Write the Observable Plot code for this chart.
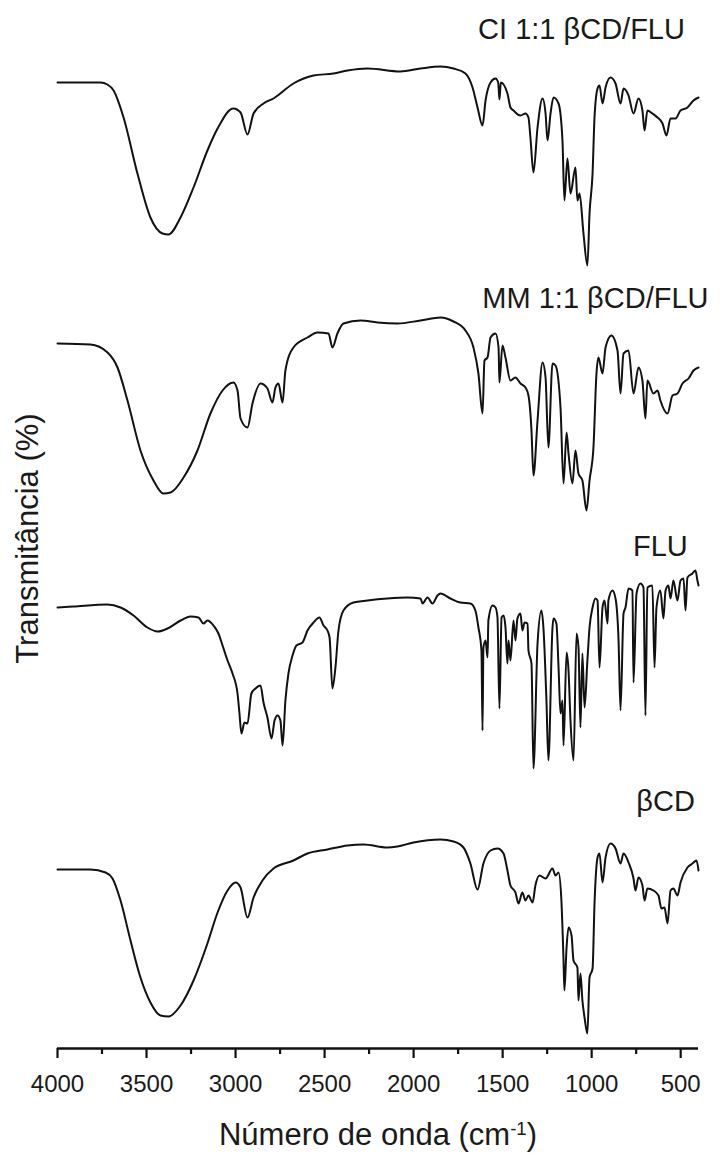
<!DOCTYPE html>
<html>
<head>
<meta charset="utf-8">
<script src="https://cdn.jsdelivr.net/npm/d3@7"></script>
<script src="https://cdn.jsdelivr.net/npm/@observablehq/plot@0.6"></script>
<style>
  body { margin: 0; background: #fff; }
  svg { font-family: "Liberation Sans", Arial, sans-serif; }
</style>
</head>
<body>
<div id="chart"></div>
<script>
// Series (top to bottom) and vertical stacking offset (arbitrary transmittance units)
const seriesNames = ["CI 1:1 βCD/FLU", "MM 1:1 βCD/FLU", "FLU", "βCD"];
const stackOffset = [750, 500, 250, 0];

// Label anchors: wavenumber and transmittance (relative to each series' offset)
const labelWn = [1057, 979, 614, 585];
const labelT = [269, 250, 252, 247];

// Axis ticks
const majorTicks = [4000, 3500, 3000, 2500, 2000, 1500, 1000, 500];
const minorTicks = [3750, 3250, 2750, 2250, 1750, 1250, 750];

// Spectra: [wavenumber (cm-1), transmittance (arbitrary units)]
const ciSpectrum = [
  [4000,216],[3758,216],[3720,214],[3685,208],[3629,181],[3551,125],[3478,81],[3410,65],[3377,64],[3309,81],
  [3236,111],[3158,148],[3101,170],[3012,190],[2972,186],[2933,164],[2899,185],[2843,195],[2787,200],
  [2675,215],[2562,223],[2450,225],[2371,228],[2259,230],[2074,227],[1961,230],[1849,232],[1776,230],
  [1709,225],[1669,211],[1641,191],[1613,173],[1596,198],[1568,216],[1540,220],[1525,216],[1518,199],
  [1510,216],[1473,205],[1456,191],[1439,188],[1400,183],[1372,185],[1355,181],[1344,161],[1327,126],
  [1304,171],[1276,200],[1259,185],[1248,158],[1231,185],[1214,201],[1186,195],[1164,158],[1153,98],
  [1136,140],[1119,105],[1091,131],[1080,98],[1068,105],[1046,65],[1024,33],[1012,85],[995,125],
  [984,181],[967,210],[956,213],[939,195],[922,211],[894,221],[866,215],[838,195],[821,210],[793,203],
  [765,185],[737,200],[715,188],[703,168],[687,188],[659,185],[630,181],[602,175],[580,163],[557,180],
  [529,180],[501,188],[462,191],[428,198],[400,201]
];

const mmSpectrum = [
  [4000,205],[3815,204],[3719,196],[3663,181],[3607,148],[3534,98],[3461,68],[3405,55],[3365,56],
  [3292,71],[3214,98],[3141,135],[3073,158],[3012,166],[2989,158],[2972,130],[2933,121],[2905,145],
  [2860,165],[2821,160],[2793,146],[2776,161],[2759,165],[2736,146],[2720,178],[2675,201],[2596,211],
  [2540,216],[2478,215],[2456,201],[2428,215],[2394,225],[2298,228],[2203,226],[2091,225],[1961,228],
  [1849,231],[1776,227],[1709,218],[1664,201],[1636,175],[1613,135],[1602,188],[1585,191],[1568,211],
  [1540,215],[1523,201],[1518,166],[1501,203],[1484,191],[1456,168],[1428,171],[1400,165],[1372,161],
  [1355,153],[1338,118],[1327,73],[1304,128],[1276,186],[1259,171],[1243,101],[1220,185],[1203,183],
  [1175,141],[1158,65],[1141,116],[1130,95],[1108,65],[1091,98],[1074,75],[1052,68],[1029,38],
  [1012,68],[990,101],[973,175],[962,191],[939,175],[922,201],[889,213],[855,198],[838,155],[821,195],
  [793,198],[765,155],[737,181],[715,168],[698,130],[687,168],[653,155],[630,158],[614,148],[574,135],
  [546,153],[518,155],[490,165],[456,170],[428,178],[400,181]
];

const fluSpectrum = [
  [4000,191],[3910,192],[3719,194],[3646,191],[3573,183],[3495,171],[3438,167],[3382,170],[3309,178],
  [3253,182],[3208,181],[3180,175],[3158,178],[3124,173],[3096,165],[3073,153],[3045,138],[3017,125],
  [2989,105],[2978,85],[2967,65],[2950,76],[2933,75],[2911,105],[2888,110],[2860,113],[2843,96],
  [2821,81],[2798,60],[2781,78],[2764,83],[2748,78],[2736,53],[2720,98],[2703,125],[2680,143],
  [2658,153],[2624,156],[2596,168],[2562,176],[2529,181],[2506,173],[2484,168],[2472,161],[2456,110],
  [2439,131],[2422,168],[2394,188],[2338,196],[2259,198],[2147,200],[2034,201],[1961,200],[1950,195],
  [1922,201],[1894,195],[1866,203],[1849,205],[1793,200],[1737,196],[1681,195],[1653,188],[1636,171],
  [1619,148],[1613,68],[1608,151],[1596,158],[1585,141],[1580,178],[1557,193],[1540,191],[1529,181],
  [1518,90],[1506,181],[1495,183],[1484,171],[1473,135],[1467,158],[1456,138],[1439,178],[1428,158],
  [1417,180],[1400,185],[1389,168],[1377,176],[1360,175],[1355,148],[1338,135],[1327,30],[1304,155],
  [1282,188],[1271,171],[1254,98],[1243,38],[1220,171],[1214,180],[1198,175],[1186,131],[1175,85],
  [1164,98],[1158,53],[1141,146],[1130,128],[1119,78],[1102,38],[1085,165],[1074,151],[1063,71],
  [1052,145],[1040,91],[1024,138],[1012,171],[995,191],[979,200],[967,198],[956,131],[939,191],
  [928,198],[911,175],[906,198],[883,208],[866,200],[849,158],[838,88],[821,185],[810,191],[793,210],
  [771,208],[765,116],[748,205],[726,215],[709,211],[698,83],[687,211],[659,213],[647,131],[636,191],
  [614,208],[597,180],[585,208],[569,213],[557,200],[541,218],[518,198],[501,218],[484,220],[473,188],
  [462,221],[434,225],[417,228],[406,218],[400,213]
];

const bcdSpectrum = [
  [4000,179],[3815,179],[3730,176],[3691,170],[3646,148],[3590,108],[3534,71],[3478,46],[3422,33],
  [3377,32],[3309,43],[3236,68],[3158,105],[3101,136],[3045,158],[3000,166],[2972,161],[2933,131],
  [2899,151],[2849,168],[2787,180],[2675,188],[2596,195],[2484,199],[2371,203],[2281,204],[2147,201],
  [2091,202],[2001,206],[1849,209],[1776,207],[1720,201],[1681,185],[1641,159],[1608,185],[1568,198],
  [1529,200],[1495,195],[1473,178],[1456,163],[1428,156],[1411,145],[1389,156],[1372,148],[1355,153],
  [1332,146],[1316,163],[1293,173],[1259,170],[1220,180],[1203,173],[1186,176],[1170,148],[1158,88],
  [1153,58],[1141,101],[1130,121],[1113,113],[1102,88],[1080,81],[1074,48],[1063,75],[1052,48],
  [1040,31],[1024,15],[1012,71],[995,80],[984,145],[967,191],[956,195],[939,166],[922,191],[894,205],
  [866,200],[838,185],[821,195],[793,186],[765,170],[754,158],[737,171],[715,163],[703,148],[687,160],
  [653,158],[625,153],[608,140],[591,141],[574,125],[557,158],[541,160],[518,153],[501,166],[462,181],
  [434,185],[411,188],[400,178]
];

const spectra = [ciSpectrum, mmSpectrum, fluSpectrum, bcdSpectrum];

const rows = spectra.flatMap((s, i) =>
  s.map(([wn, t]) => ({series: seriesNames[i], wn, t: t + stackOffset[i]}))
);
const labels = seriesNames.map((name, i) => ({name, wn: labelWn[i], t: labelT[i] + stackOffset[i]}));

const xTitle = "Número de onda (cm-1)";
const yTitle = "Transmitância (%)";

const chart = Plot.plot({
  width: 724,
  height: 1153,
  marginLeft: 57,
  marginRight: 26,
  marginTop: 0,
  marginBottom: 105,
  style: {background: "#fff", color: "#111", fontFamily: '"Liberation Sans", Arial, sans-serif'},
  x: {domain: [4000, 400]},
  y: {domain: [0, 1048], axis: null},
  marks: [
    Plot.line(rows, {x: "wn", y: "t", z: "series", stroke: "#111", strokeWidth: 2, curve: "monotone-x"}),
    Plot.ruleY([0], {stroke: "#111", strokeWidth: 2.6}),
    Plot.axisX({ticks: majorTicks, tickSize: 10, tickPadding: 16, strokeWidth: 2.2, fontSize: 24, tickFormat: d => String(d), label: null, stroke: "#111", fill: "#1a1a1a"}),
    Plot.axisX({ticks: minorTicks, tickSize: 6, strokeWidth: 2.2, tickFormat: () => "", label: null, stroke: "#111"}),
    Plot.text(labels, {x: "wn", y: "t", text: "name", fontSize: 29, fill: "#1a1a1a", textAnchor: "middle", lineAnchor: "middle"}),
    Plot.text([xTitle], {frameAnchor: "bottom", textAnchor: "middle", lineAnchor: "middle", dy: 87, fontSize: 31, fill: "#1a1a1a"}),
    Plot.text([yTitle], {frameAnchor: "left", textAnchor: "middle", lineAnchor: "middle", rotate: -90, dx: -29, dy: 14, fontSize: 31, fill: "#1a1a1a"})
  ]
});

document.getElementById("chart").appendChild(chart);

// Superscript for cm^-1 in the x title
d3.select(chart).selectAll("text").filter(function() { return this.textContent === xTitle; }).each(function() {
  const t = d3.select(this);
  t.text(null);
  t.append("tspan").text("Número de onda (cm");
  t.append("tspan").attr("dy", "-0.55em").attr("font-size", "0.6em").text("-1");
  t.append("tspan").attr("dy", "0.33em").text(")");
});
</script>
</body>
</html>
